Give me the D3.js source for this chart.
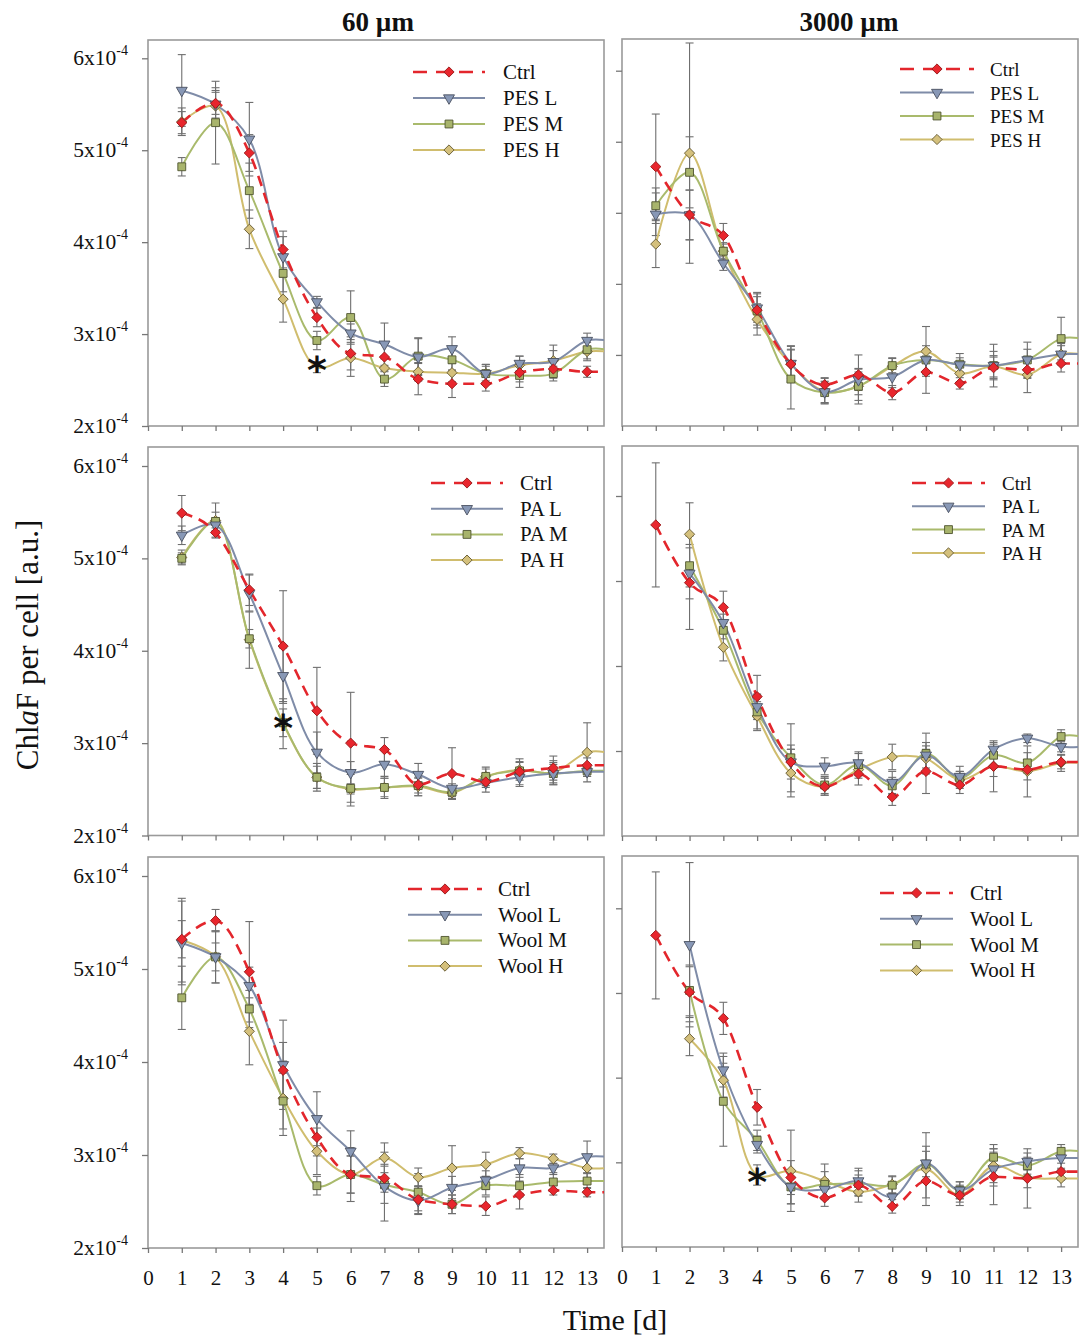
<!DOCTYPE html>
<html>
<head>
<meta charset="utf-8">
<script src="https://cdn.jsdelivr.net/npm/d3@7"></script>
<style>
  body { margin: 0; background: #fff; }
  text { font-family: "Liberation Serif", "Times New Roman", serif; fill: #111; }
</style>
</head>
<body>
<svg id="chart" width="1081" height="1337"></svg>
<script>
// ---- data (ChlaF per cell, in units of 1e-4) ----
var days = [1, 2, 3, 4, 5, 6, 7, 8, 9, 10, 11, 12, 13];
var xTickValues = [0, 1, 2, 3, 4, 5, 6, 7, 8, 9, 10, 11, 12, 13];
var yTickValues = [2, 3, 4, 5, 6];
var columnTitles = ["60 µm", "3000 µm"];

// PES, 60 µm
var pes60Ctrl = [5.30, 5.51, 4.97, 3.92, 3.18, 2.79, 2.75, 2.51, 2.46, 2.46, 2.58, 2.62, 2.59];
var pes60CtrlErr = [0.12, 0.12, 0.20, 0.20, 0.10, 0.18, 0.15, 0.17, 0.15, 0.08, 0.10, 0.10, 0.06];
var pes60L = [5.65, 5.50, 5.12, 3.84, 3.35, 3.01, 2.89, 2.75, 2.84, 2.57, 2.68, 2.70, 2.93];
var pes60LErr = [0.39, 0.15, 0.40, 0.22, 0.06, 0.10, 0.23, 0.20, 0.13, 0.10, 0.08, 0.12, 0.08];
var pes60M = [4.82, 5.30, 4.56, 3.66, 2.93, 3.18, 2.51, 2.76, 2.72, 2.57, 2.55, 2.57, 2.83];
var pes60MErr = [0.10, 0.45, 0.30, 0.20, 0.10, 0.29, 0.08, 0.20, 0.12, 0.10, 0.13, 0.08, 0.10];
var pes60H = [5.31, 5.48, 4.14, 3.38, 2.64, 2.74, 2.63, 2.59, 2.58, 2.57, 2.66, 2.71, 2.81];
var pes60HErr = [0.15, 0.20, 0.21, 0.25, 0.06, 0.20, 0.10, 0.10, 0.10, 0.08, 0.10, 0.17, 0.10];

// PES, 3000 µm
var pes3000Ctrl = [5.65, 4.97, 4.68, 3.63, 2.87, 2.58, 2.72, 2.47, 2.76, 2.60, 2.82, 2.79, 2.88];
var pes3000CtrlErr = [0.74, 0.35, 0.17, 0.25, 0.20, 0.10, 0.28, 0.10, 0.30, 0.08, 0.15, 0.12, 0.12];
var pes3000L = [4.98, 4.97, 4.29, 3.66, 2.88, 2.48, 2.65, 2.69, 2.93, 2.86, 2.85, 2.93, 3.01];
var pes3000LErr = [0.30, 0.35, 0.10, 0.20, 0.25, 0.15, 0.15, 0.15, 0.20, 0.10, 0.20, 0.15, 0.15];
var pes3000M = [5.10, 5.57, 4.46, 3.62, 2.66, 2.47, 2.56, 2.85, 2.93, 2.87, 2.85, 2.93, 3.23];
var pes3000MErr = [0.25, 0.50, 0.12, 0.20, 0.42, 0.15, 0.25, 0.10, 0.15, 0.15, 0.30, 0.25, 0.30];
var pes3000H = [4.56, 5.84, 4.46, 3.50, 2.87, 2.49, 2.56, 2.84, 3.05, 2.74, 2.84, 2.72, 3.01];
var pes3000HErr = [0.33, 1.55, 0.10, 0.22, 0.25, 0.18, 0.20, 0.12, 0.35, 0.12, 0.15, 0.25, 0.12];

// PA, 60 µm
var pa60Ctrl = [5.49, 5.28, 4.66, 4.05, 3.35, 3.00, 2.93, 2.55, 2.67, 2.58, 2.69, 2.73, 2.76];
var pa60CtrlErr = [0.19, 0.05, 0.17, 0.60, 0.47, 0.55, 0.13, 0.12, 0.28, 0.06, 0.14, 0.13, 0.08];
var pa60L = [5.25, 5.36, 4.62, 3.73, 2.90, 2.68, 2.77, 2.66, 2.51, 2.57, 2.63, 2.67, 2.69];
var pa60LErr = [0.10, 0.08, 0.20, 0.30, 0.22, 0.12, 0.15, 0.12, 0.05, 0.10, 0.10, 0.12, 0.05];
var pa60M = [5.00, 5.40, 4.13, 3.22, 2.63, 2.51, 2.52, 2.54, 2.47, 2.64, 2.70, 2.67, 2.70];
var pa60MErr = [0.06, 0.10, 0.10, 0.15, 0.12, 0.15, 0.10, 0.08, 0.05, 0.08, 0.10, 0.10, 0.06];
var pa60H = [5.01, 5.41, 4.12, 3.21, 2.63, 2.50, 2.52, 2.53, 2.46, 2.64, 2.71, 2.68, 2.90];
var pa60HErr = [0.08, 0.19, 0.31, 0.27, 0.15, 0.18, 0.12, 0.10, 0.06, 0.10, 0.08, 0.13, 0.32];

// PA, 3000 µm
var pa3000Ctrl = [5.66, 4.98, 4.69, 3.64, 2.87, 2.58, 2.73, 2.46, 2.76, 2.60, 2.82, 2.78, 2.87];
var pa3000CtrlErr = [0.73, 0.55, 0.19, 0.25, 0.20, 0.10, 0.13, 0.10, 0.26, 0.10, 0.30, 0.12, 0.08];
var pa3000L = [null, 5.09, 4.51, 3.52, 2.87, 2.82, 2.86, 2.63, 2.95, 2.70, 3.02, 3.15, 3.05];
var pa3000LErr = [null, 0.30, 0.10, 0.15, 0.15, 0.10, 0.13, 0.13, 0.15, 0.12, 0.06, 0.05, 0.06];
var pa3000M = [null, 5.18, 4.42, 3.46, 2.92, 2.60, 2.84, 2.59, 2.97, 2.68, 2.95, 2.86, 3.17];
var pa3000MErr = [null, 0.25, 0.10, 0.20, 0.40, 0.10, 0.13, 0.10, 0.24, 0.08, 0.15, 0.12, 0.08];
var pa3000H = [null, 5.55, 4.22, 3.41, 2.74, 2.58, 2.78, 2.93, 2.91, 2.66, 2.82, 2.76, 2.86];
var pa3000HErr = [null, 0.37, 0.16, 0.17, 0.28, 0.10, 0.10, 0.15, 0.15, 0.10, 0.12, 0.30, 0.10];

// Wool, 60 µm
var wool60Ctrl = [5.32, 5.52, 4.97, 3.91, 3.19, 2.79, 2.75, 2.52, 2.47, 2.45, 2.57, 2.62, 2.60];
var wool60CtrlErr = [0.20, 0.12, 0.54, 0.30, 0.20, 0.20, 0.15, 0.15, 0.10, 0.10, 0.15, 0.05, 0.05];
var wool60L = [5.28, 5.13, 4.82, 3.97, 3.39, 3.04, 2.66, 2.51, 2.65, 2.73, 2.86, 2.86, 2.98];
var wool60LErr = [0.45, 0.15, 0.20, 0.48, 0.29, 0.22, 0.37, 0.15, 0.12, 0.10, 0.10, 0.05, 0.17];
var wool60M = [4.69, 5.13, 4.57, 3.58, 2.67, 2.79, 2.68, 2.60, 2.47, 2.67, 2.67, 2.71, 2.72];
var wool60MErr = [0.34, 0.28, 0.20, 0.30, 0.10, 0.29, 0.20, 0.20, 0.10, 0.10, 0.12, 0.08, 0.08];
var wool60H = [5.31, 5.13, 4.33, 3.61, 3.04, 2.79, 2.97, 2.76, 2.86, 2.90, 3.02, 2.96, 2.86];
var wool60HErr = [0.45, 0.28, 0.36, 0.40, 0.25, 0.20, 0.16, 0.10, 0.24, 0.13, 0.06, 0.05, 0.12];

// Wool, 3000 µm
var wool3000Ctrl = [5.68, 5.01, 4.70, 3.65, 2.82, 2.58, 2.73, 2.48, 2.78, 2.61, 2.83, 2.81, 2.89];
var wool3000CtrlErr = [0.75, 0.30, 0.19, 0.21, 0.20, 0.10, 0.12, 0.08, 0.20, 0.08, 0.33, 0.35, 0.10];
var wool3000L = [null, 5.57, 4.09, 3.21, 2.71, 2.68, 2.78, 2.59, 2.99, 2.67, 2.92, 3.01, 3.05];
var wool3000LErr = [null, 0.97, 0.20, 0.10, 0.20, 0.12, 0.15, 0.12, 0.20, 0.10, 0.20, 0.10, 0.12];
var wool3000M = [null, 5.03, 3.72, 3.26, 2.71, 2.74, 2.75, 2.73, 2.98, 2.67, 3.06, 2.96, 3.13];
var wool3000MErr = [null, 0.30, 0.53, 0.12, 0.20, 0.15, 0.15, 0.10, 0.15, 0.10, 0.15, 0.10, 0.08];
var wool3000H = [null, 4.46, 3.97, 2.85, 2.90, 2.78, 2.65, 2.74, 2.92, 2.61, 2.96, 2.82, 2.81];
var wool3000HErr = [null, 0.20, 0.20, 0.12, 0.48, 0.20, 0.12, 0.10, 0.43, 0.12, 0.20, 0.12, 0.10];

// significance stars: panel index, day, value
var starPanel = [0, 2, 5];
var starDay = [5, 4, 4];
var starValue = [2.65, 3.21, 2.82];

var legendPES = ["Ctrl", "PES L", "PES M", "PES H"];
var legendPA = ["Ctrl", "PA L", "PA M", "PA H"];
var legendWool = ["Ctrl", "Wool L", "Wool M", "Wool H"];

// ---- styles ----
var styles = [
    { line: "#e3262c", fill: "#e8262d", stroke: "#9a1a1a", dash: "11,7", width: 2.6, sym: "diamond" },
    { line: "#7f8ca8", fill: "#8898b6", stroke: "#4a5060", dash: null, width: 2, sym: "tri" },
    { line: "#a9ba6c", fill: "#a8b46c", stroke: "#4f5530", dash: null, width: 2, sym: "square" },
    { line: "#d0bd6e", fill: "#d4c07c", stroke: "#6a5e35", dash: null, width: 2, sym: "diamond" }
];

// ---- layout ----
var panels = [
    { x0: 148, x1: 604, y0: 40, y1: 426, yr: [426, 58.3], ymax: 6, labels: true,
      series: [[pes60Ctrl, pes60CtrlErr], [pes60L, pes60LErr], [pes60M, pes60MErr], [pes60H, pes60HErr]],
      legend: legendPES, lg: { x: 413, y: 72, w: 72, dy: 26, tx: 503, fs: 21 } },
    { x0: 622, x1: 1078, y0: 39, y1: 426, yr: [426, 70.7], ymax: 7, labels: false,
      series: [[pes3000Ctrl, pes3000CtrlErr], [pes3000L, pes3000LErr], [pes3000M, pes3000MErr], [pes3000H, pes3000HErr]],
      legend: legendPES, lg: { x: 900, y: 69, w: 74, dy: 23.5, tx: 990, fs: 19 } },
    { x0: 148, x1: 604, y0: 447, y1: 835.5, yr: [835.5, 466], ymax: 6, labels: true,
      series: [[pa60Ctrl, pa60CtrlErr], [pa60L, pa60LErr], [pa60M, pa60MErr], [pa60H, pa60HErr]],
      legend: legendPA, lg: { x: 431, y: 483, w: 72, dy: 25.7, tx: 520, fs: 21 } },
    { x0: 622, x1: 1078, y0: 446, y1: 836, yr: [836, 496], ymax: 6, labels: false,
      series: [[pa3000Ctrl, pa3000CtrlErr], [pa3000L, pa3000LErr], [pa3000M, pa3000MErr], [pa3000H, pa3000HErr]],
      legend: legendPA, lg: { x: 912, y: 483, w: 73, dy: 23.3, tx: 1002, fs: 19 } },
    { x0: 148, x1: 604, y0: 857, y1: 1248, yr: [1248, 876], ymax: 6, labels: true,
      series: [[wool60Ctrl, wool60CtrlErr], [wool60L, wool60LErr], [wool60M, wool60MErr], [wool60H, wool60HErr]],
      legend: legendWool, lg: { x: 408, y: 889, w: 74, dy: 25.7, tx: 498, fs: 21 } },
    { x0: 622, x1: 1078, y0: 856, y1: 1247, yr: [1247, 908.3], ymax: 6, labels: false,
      series: [[wool3000Ctrl, wool3000CtrlErr], [wool3000L, wool3000LErr], [wool3000M, wool3000MErr], [wool3000H, wool3000HErr]],
      legend: legendWool, lg: { x: 880, y: 893, w: 73, dy: 25.8, tx: 970, fs: 21 } }
];

var svg = d3.select("#chart");

function symbolPath(sym) {
    if (sym === "diamond") return d3.symbol().type(d3.symbolSquare).size(52)();
    if (sym === "square") return d3.symbol().type(d3.symbolSquare).size(62)();
    return d3.symbol().type(d3.symbolTriangle).size(52)();
}

function drawMarker(g, s, x, y) {
    var rot = s.sym === "tri" ? " rotate(180)" : (s.sym === "diamond" ? " rotate(45)" : "");
    g.append("path")
        .attr("d", symbolPath(s.sym))
        .attr("transform", "translate(" + x + "," + y + ")" + rot)
        .attr("fill", s.fill)
        .attr("stroke", s.stroke)
        .attr("stroke-width", 0.9);
}

panels.forEach(function(p, pi) {
    var x = d3.scaleLinear().domain([0, 13.5]).range([p.x0, p.x1]);
    var y = d3.scaleLinear().domain([2, p.ymax]).range(p.yr);
    var g = svg.append("g");

    var clipId = "clip" + pi;
    svg.append("clipPath").attr("id", clipId)
        .append("rect").attr("x", p.x0).attr("y", p.y0)
        .attr("width", p.x1 - p.x0).attr("height", p.y1 - p.y0);

    // frame
    g.append("rect")
        .attr("x", p.x0).attr("y", p.y0)
        .attr("width", p.x1 - p.x0).attr("height", p.y1 - p.y0)
        .attr("fill", "none").attr("stroke", "#9a9a9a").attr("stroke-width", 1.6);

    // x ticks
    var xAxis = g.append("g").attr("transform", "translate(0," + p.y1 + ")")
        .call(d3.axisBottom(x).tickValues(xTickValues).tickSize(5).tickSizeOuter(0)
            .tickFormat(pi >= 4 ? d3.format("d") : ""));
    xAxis.select(".domain").remove();
    xAxis.selectAll("line").attr("stroke", "#777").attr("stroke-width", 1.3);
    xAxis.selectAll("text")
        .attr("font-size", 21).attr("y", 30).attr("dy", "0.35em").attr("fill", "#222")
        .style("font-family", "'Liberation Serif', serif");

    // y ticks
    var yTicks = d3.range(3, p.ymax + 1);
    if (p.labels) yTicks = yTickValues;
    var yAxis = g.append("g").attr("transform", "translate(" + p.x0 + ",0)")
        .call(d3.axisLeft(y).tickValues(yTicks).tickSize(6).tickSizeOuter(0).tickFormat(""));
    yAxis.select(".domain").remove();
    yAxis.selectAll("line").attr("stroke", "#777").attr("stroke-width", 1.3);

    if (p.labels) {
        yTickValues.forEach(function(v) {
            var t = g.append("text")
                .attr("x", p.x0 - 20).attr("y", y(v) + 7)
                .attr("text-anchor", "end").attr("font-size", 21.5).attr("fill", "#222");
            t.append("tspan").text(v + "x10");
            t.append("tspan").attr("font-size", 14).attr("dy", -10).text("-4");
        });
    }

    var plot = g.append("g").attr("clip-path", "url(#" + clipId + ")");

    // error bars
    p.series.forEach(function(ser) {
        var vals = ser[0], errs = ser[1];
        days.forEach(function(d, i) {
            if (vals[i] == null) return;
            var cx = x(d), lo = y(vals[i] - errs[i]), hi = y(vals[i] + errs[i]);
            plot.append("line").attr("x1", cx).attr("x2", cx).attr("y1", lo).attr("y2", hi)
                .attr("stroke", "#6f6f6f").attr("stroke-width", 1.1);
            [lo, hi].forEach(function(yy) {
                plot.append("line").attr("x1", cx - 4).attr("x2", cx + 4).attr("y1", yy).attr("y2", yy)
                    .attr("stroke", "#6f6f6f").attr("stroke-width", 1.1);
            });
        });
    });

    // lines (treatments first, control on top)
    var order = [3, 2, 1, 0];
    order.forEach(function(si) {
        var vals = p.series[si][0];
        var s = styles[si];
        var pts = [];
        days.forEach(function(d, i) { if (vals[i] != null) pts.push([d, vals[i]]); });
        pts.push([13.6, vals[12]]);
        var line = d3.line()
            .x(function(d) { return x(d[0]); })
            .y(function(d) { return y(d[1]); })
            .curve(si === 0 ? d3.curveMonotoneX : d3.curveCatmullRom.alpha(0.5));
        plot.append("path").datum(pts)
            .attr("d", line)
            .attr("fill", "none")
            .attr("stroke", s.line)
            .attr("stroke-width", s.width)
            .attr("stroke-dasharray", s.dash);
    });

    // markers
    order.forEach(function(si) {
        var vals = p.series[si][0];
        days.forEach(function(d, i) {
            if (vals[i] == null) return;
            if (starPanel.some(function(sp, k) { return sp === pi && starDay[k] === d && si === 3; })) return;
            drawMarker(plot, styles[si], x(d), y(vals[i]));
        });
    });

    // stars
    starPanel.forEach(function(sp, k) {
        if (sp !== pi) return;
        g.append("text")
            .attr("x", x(starDay[k])).attr("y", y(starValue[k]) + 17)
            .attr("text-anchor", "middle").attr("font-size", 38).attr("font-weight", "bold")
            .style("font-family", "'DejaVu Sans', sans-serif")
            .attr("fill", "#111").text("*");
    });

    // legend
    var lg = p.lg;
    p.legend.forEach(function(name, i) {
        var s = styles[i], ly = lg.y + i * lg.dy;
        g.append("line")
            .attr("x1", lg.x).attr("x2", lg.x + lg.w).attr("y1", ly).attr("y2", ly)
            .attr("stroke", s.line).attr("stroke-width", s.width)
            .attr("stroke-dasharray", s.dash ? "14,9" : null);
        drawMarker(g, s, lg.x + lg.w / 2, ly);
        g.append("text")
            .attr("x", lg.tx).attr("y", ly + 7)
            .attr("font-size", lg.fs).attr("fill", "#111").text(name);
    });
});

// column titles
svg.append("text").attr("x", 378).attr("y", 31).attr("text-anchor", "middle")
    .attr("font-size", 27).attr("font-weight", "bold").text(columnTitles[0]);
svg.append("text").attr("x", 849).attr("y", 31).attr("text-anchor", "middle")
    .attr("font-size", 27).attr("font-weight", "bold").text(columnTitles[1]);

// axis titles
var yt = svg.append("text")
    .attr("transform", "translate(38,645) rotate(-90)")
    .attr("text-anchor", "middle").attr("font-size", 31);
yt.append("tspan").text("Chl");
yt.append("tspan").attr("font-style", "italic").text("a");
yt.append("tspan").text("F per cell [a.u.]");

svg.append("text").attr("x", 615).attr("y", 1330).attr("text-anchor", "middle")
    .attr("font-size", 30).text("Time [d]");
</script>
</body>
</html>
